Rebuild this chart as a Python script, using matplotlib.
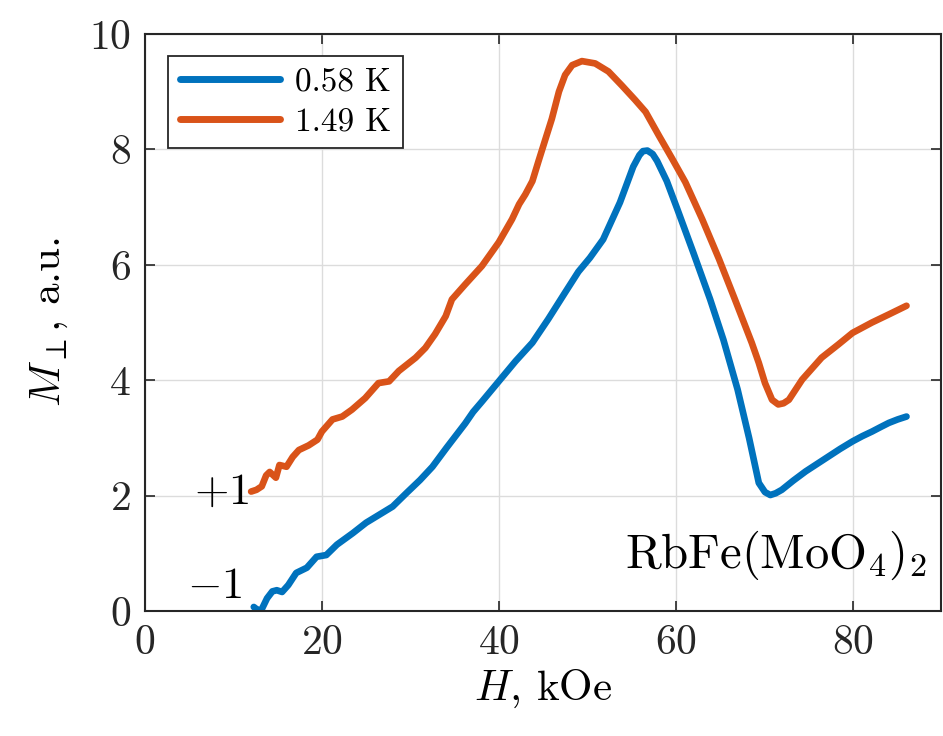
import matplotlib
matplotlib.use("Agg")
import matplotlib.pyplot as plt

plt.rcParams.update({
    "font.family": "serif",
    "font.serif": ["cmr10", "DejaVu Serif"],
    "mathtext.fontset": "cm",
    "axes.formatter.use_mathtext": True,
    "axes.unicode_minus": False,
})

# Field scans, H in kOe, M_perp in arbitrary units (curves offset by +1 / -1)
h_058 = [12.3, 12.8, 13.2, 13.8, 14.4, 14.9, 15.5, 16.2, 17.1, 18.3, 19.4, 20.5,
         21.7, 23.5, 25.0, 26.5, 28.0, 29.6, 31.1, 32.5, 34.1, 35.2, 36.2, 37.1,
         38.1, 40.0, 41.9, 43.8, 45.6, 47.5, 49.0, 50.3, 51.8, 53.7, 55.2, 55.9,
         56.3, 56.8, 57.4, 57.9, 59.0, 60.2, 62.0, 63.9, 65.4, 67.0, 68.3, 69.4,
         70.1, 70.7, 71.3, 72.0, 73.3, 74.7, 76.0, 77.3, 78.6, 80.0, 81.1, 82.2,
         83.2, 84.1, 85.1, 86.1]
m_058 = [0.07, 0.01, 0.03, 0.22, 0.34, 0.36, 0.33, 0.45, 0.66, 0.75, 0.94, 0.97,
         1.15, 1.35, 1.53, 1.67, 1.81, 2.05, 2.27, 2.50, 2.83, 3.05, 3.25, 3.45,
         3.63, 3.98, 4.33, 4.65, 5.06, 5.52, 5.88, 6.12, 6.44, 7.08, 7.70, 7.90,
         7.97, 7.98, 7.92, 7.80, 7.45, 6.96, 6.21, 5.40, 4.70, 3.84, 3.00, 2.22,
         2.06, 2.01, 2.04, 2.10, 2.26, 2.42, 2.55, 2.68, 2.81, 2.94, 3.03, 3.11,
         3.19, 3.26, 3.32, 3.37]

h_149 = [12.0, 12.6, 13.2, 13.7, 14.1, 14.8, 15.2, 16.0, 16.7, 17.4, 18.5, 19.5,
         20.0, 21.2, 22.3, 23.4, 24.9, 26.4, 27.6, 28.7, 30.6, 31.7, 32.8, 34.0,
         34.7, 36.2, 38.1, 40.0, 41.5, 42.3, 43.0, 43.8, 44.5, 45.3, 46.0, 46.8,
         47.5, 48.3, 49.4, 50.9, 52.4, 53.9, 55.4, 56.6, 58.1, 59.6, 61.1, 63.0,
         64.9, 66.7, 68.6, 69.4, 70.1, 70.9, 71.6, 72.2, 72.8, 74.3, 76.5, 78.4,
         80.0, 82.2, 84.1, 86.1]
m_149 = [2.07, 2.10, 2.16, 2.35, 2.41, 2.31, 2.53, 2.50, 2.67, 2.79, 2.87, 2.97,
         3.11, 3.32, 3.37, 3.49, 3.69, 3.95, 3.98, 4.16, 4.39, 4.56, 4.80, 5.11,
         5.40, 5.66, 5.98, 6.39, 6.79, 7.05, 7.22, 7.45, 7.80, 8.19, 8.53, 9.00,
         9.29, 9.46, 9.53, 9.49, 9.35, 9.11, 8.86, 8.65, 8.24, 7.84, 7.43, 6.79,
         6.10, 5.40, 4.65, 4.30, 3.95, 3.66, 3.58, 3.60, 3.66, 4.01, 4.39, 4.62,
         4.82, 5.00, 5.14, 5.29]

labels = ["0.58 K", "1.49 K"]
colors = ["#0072BD", "#D95319"]
x_ticks = [0, 20, 40, 60, 80]
y_ticks = [0, 2, 4, 6, 8, 10]

fig = plt.figure(figsize=(9.43, 7.36), dpi=100)
ax = fig.add_axes([145 / 943, 1 - 611 / 736, (941 - 145) / 943, (611 - 34) / 736])

ax.plot(h_058, m_058, color=colors[0], lw=4.8, label=labels[0],
        solid_joinstyle="round", solid_capstyle="round")
ax.plot(h_149, m_149, color=colors[1], lw=4.8, label=labels[1],
        solid_joinstyle="round", solid_capstyle="round")

ax.set_xlim(0, 90)
ax.set_ylim(0, 10)
ax.set_xticks(x_ticks)
ax.set_yticks(y_ticks)
ax.grid(True, color="#dcdcdc", lw=1.0)
ax.set_axisbelow(True)

ax.tick_params(direction="in", length=7, width=1.2, top=True, right=True,
               labelsize=30, colors="#262626", pad=10)
for s in ax.spines.values():
    s.set_color("#262626")
    s.set_linewidth(1.5)

ax.set_xlabel(r"$H$, kOe", fontsize=31, labelpad=4)
ax.set_ylabel(r"$M_\perp$, a.u.", fontsize=31, labelpad=14)

leg = ax.legend(loc="upper left", bbox_to_anchor=(0.029, 0.962), fontsize=24,
                fancybox=False, edgecolor="#262626", framealpha=1,
                handlelength=3.0, handletextpad=0.45, borderpad=0.35,
                labelspacing=0.3, borderaxespad=0)
leg.get_frame().set_linewidth(1.3)
for line in leg.get_lines():
    line.set_linewidth(5)

ax.text(11.8, 2.05, r"$+1$", fontsize=32, ha="right", va="center")
ax.text(11.0, 0.42, r"$-1$", fontsize=32, ha="right", va="center")
ax.text(88.4, 0.74, r"RbFe(MoO$_4$)$_2$", fontsize=35, ha="right", va="baseline")

fig.savefig("out.png", dpi=100)
